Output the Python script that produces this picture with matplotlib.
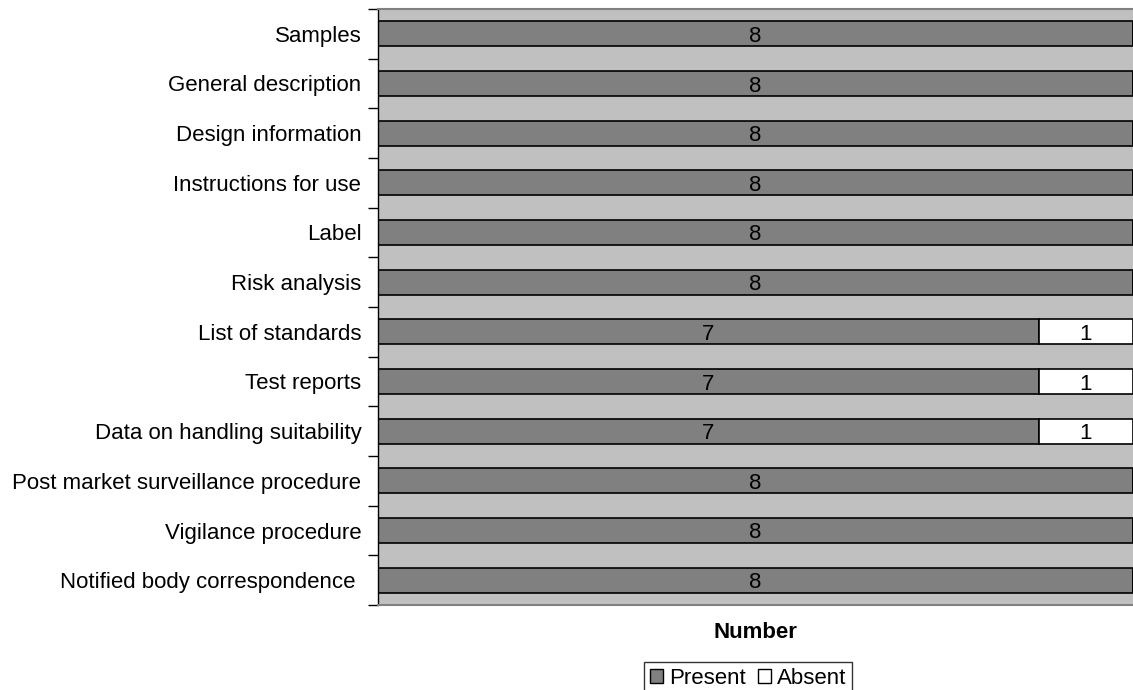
import matplotlib
matplotlib.use("Agg")
import matplotlib.pyplot as plt
from matplotlib.patches import Patch

plt.rcParams['font.family'] = ['Liberation Sans', 'DejaVu Sans']

categories = [
    "Samples",
    "General description",
    "Design information",
    "Instructions for use",
    "Label",
    "Risk analysis",
    "List of standards",
    "Test reports",
    "Data on handling suitability",
    "Post market surveillance procedure",
    "Vigilance procedure",
    "Notified body correspondence ",
]
present = [8, 8, 8, 8, 8, 8, 7, 7, 7, 8, 8, 8]
absent = [0, 0, 0, 0, 0, 0, 1, 1, 1, 0, 0, 0]
series_names = ["Present", "Absent"]

W, H = 1133, 690
FS = 16
fig = plt.figure(figsize=(W / 100, H / 100), dpi=100)
ax = fig.add_axes([378 / W, (H - 605) / H, (W - 378) / W, 596 / H])
ax.set_facecolor("#C0C0C0")

ypos = list(range(len(categories)))
ax.barh(ypos, present, height=0.5, color="#808080", edgecolor="black", linewidth=1.2)
ax.barh(ypos, absent, left=present, height=0.5, color="white", edgecolor="black", linewidth=1.2)

for y, p, a in zip(ypos, present, absent):
    if p:
        ax.text(p / 2, y, str(p), ha="center", va="center_baseline", fontsize=FS)
    if a:
        ax.text(p + a / 2, y, str(a), ha="center", va="center_baseline", fontsize=FS)

ax.set_xlim(0, 8)
ax.set_ylim(len(categories) - 0.5, -0.5)
ax.set_xticks([])
ax.set_yticks(ypos)
ax.set_yticklabels(categories, fontsize=FS)
ax.tick_params(axis="y", length=0, pad=12)
# boundary ticks between categories
ax.set_yticks([y - 0.5 for y in ypos] + [len(categories) - 0.5], minor=True)
ax.tick_params(axis="y", which="minor", length=7, width=1, direction="out")

for side in ("top", "bottom"):
    ax.spines[side].set_color("#808080")
    ax.spines[side].set_linewidth(1.5)
ax.spines["right"].set_visible(False)
ax.spines["left"].set_color("black")
ax.spines["left"].set_linewidth(1)

fig.text((378 + W) / 2 / W, (H - 632) / H, "Number", ha="center", va="center",
         fontsize=FS, fontweight="bold")

handles = [Patch(facecolor="#808080", edgecolor="black", linewidth=1),
           Patch(facecolor="white", edgecolor="black", linewidth=1)]
leg = fig.legend(handles, series_names, loc="upper center", ncol=2,
                 bbox_to_anchor=(748 / W, (H - 662) / H), fontsize=FS,
                 frameon=True, fancybox=False, shadow=False,
                 handlelength=0.6, handleheight=0.6, handletextpad=0.25,
                 columnspacing=0.55, borderpad=0.25, borderaxespad=0)
leg.get_frame().set_edgecolor("black")
leg.get_frame().set_linewidth(1)

fig.savefig("out.png", dpi=100)
